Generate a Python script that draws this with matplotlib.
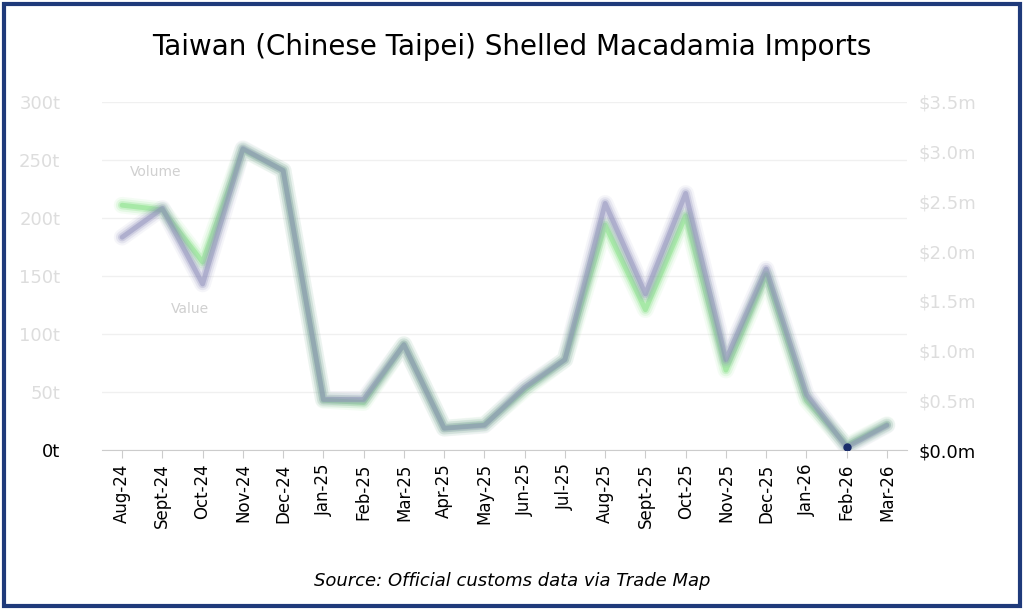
import matplotlib
matplotlib.use("Agg")
import matplotlib.pyplot as plt
from matplotlib.patches import Rectangle

months = ["Aug-24","Sept-24","Oct-24","Nov-24","Dec-24","Jan-25","Feb-25","Mar-25","Apr-25","May-25",
          "Jun-25","Jul-25","Aug-25","Sept-25","Oct-25","Nov-25","Dec-25","Jan-26","Feb-26","Mar-26"]
volume_t = [211,207,162,259,241,43,41,91,19,22,52,78,194,121,202,69,151,43,4,22]
value_m = [2.14,2.43,1.67,3.03,2.81,0.51,0.51,1.06,0.22,0.25,0.63,0.91,2.48,1.57,2.58,0.91,1.82,0.56,0.03,0.25]
left_ticks = [0,50,100,150,200,250,300]
right_ticks = [0,0.5,1.0,1.5,2.0,2.5,3.0,3.5]

fig = plt.figure(figsize=(10.24,6.1), dpi=100)
fig.patches.append(Rectangle((0.004,0.006),0.992,0.988,transform=fig.transFigure,fill=False,
                             edgecolor="#1f3a7a",linewidth=3))
ax = fig.add_axes([0.0996,0.262,0.7862,0.571])
ax2 = ax.twinx()
x = range(len(months))

def glow(a, xs, ys, color):
    for lw, al in [(12,0.08),(9,0.14),(6,0.25),(3.5,0.45)]:
        a.plot(xs, ys, color=color, lw=lw, alpha=al, solid_capstyle="round", solid_joinstyle="round")

glow(ax, x, volume_t, "#7ee07e")
glow(ax2, x, value_m, "#8a8ab8")
ax2.plot([18],[0.03],"o",color="#1a2d6b",ms=5)

ax.set_ylim(0,300); ax2.set_ylim(0,3.5)
ax.set_xlim(-0.5,len(months)-0.5)
ax.set_yticks(left_ticks)
ax.set_yticklabels(["0t"]+[f"{v}t" for v in left_ticks[1:]])
ax2.set_yticks(right_ticks)
ax2.set_yticklabels(["$0.0m"]+[f"${v:.1f}m" for v in right_ticks[1:]])
for lbl in ax.get_yticklabels()[1:]+ax2.get_yticklabels()[1:]:
    lbl.set_color("#dddddd")
ax.tick_params(axis="y", length=0, labelsize=13, pad=30)
ax2.tick_params(axis="y", length=0, labelsize=13, pad=8)
ax.grid(axis="y", color="#f0f0f0", lw=1)
ax.set_xticks(list(x))
ax.set_xticklabels(months, rotation=90, fontsize=12)
ax.tick_params(axis="x", length=6, color="#cccccc")
for s in ["top","right","left"]:
    ax.spines[s].set_visible(False); ax2.spines[s].set_visible(False)
ax2.spines["bottom"].set_visible(False)
ax.spines["bottom"].set_color("#cccccc")
ax.text(0.2,236,"Volume",color="#d0d0d0",fontsize=10)
ax.text(1.2,118,"Value",color="#d0d0d0",fontsize=10)
fig.text(0.5,0.91,"Taiwan (Chinese Taipei) Shelled Macadamia Imports",ha="center",fontsize=20)
fig.text(0.5,0.04,"Source: Official customs data via Trade Map",ha="center",fontsize=13,style="italic")
fig.savefig("out.png", dpi=100)
